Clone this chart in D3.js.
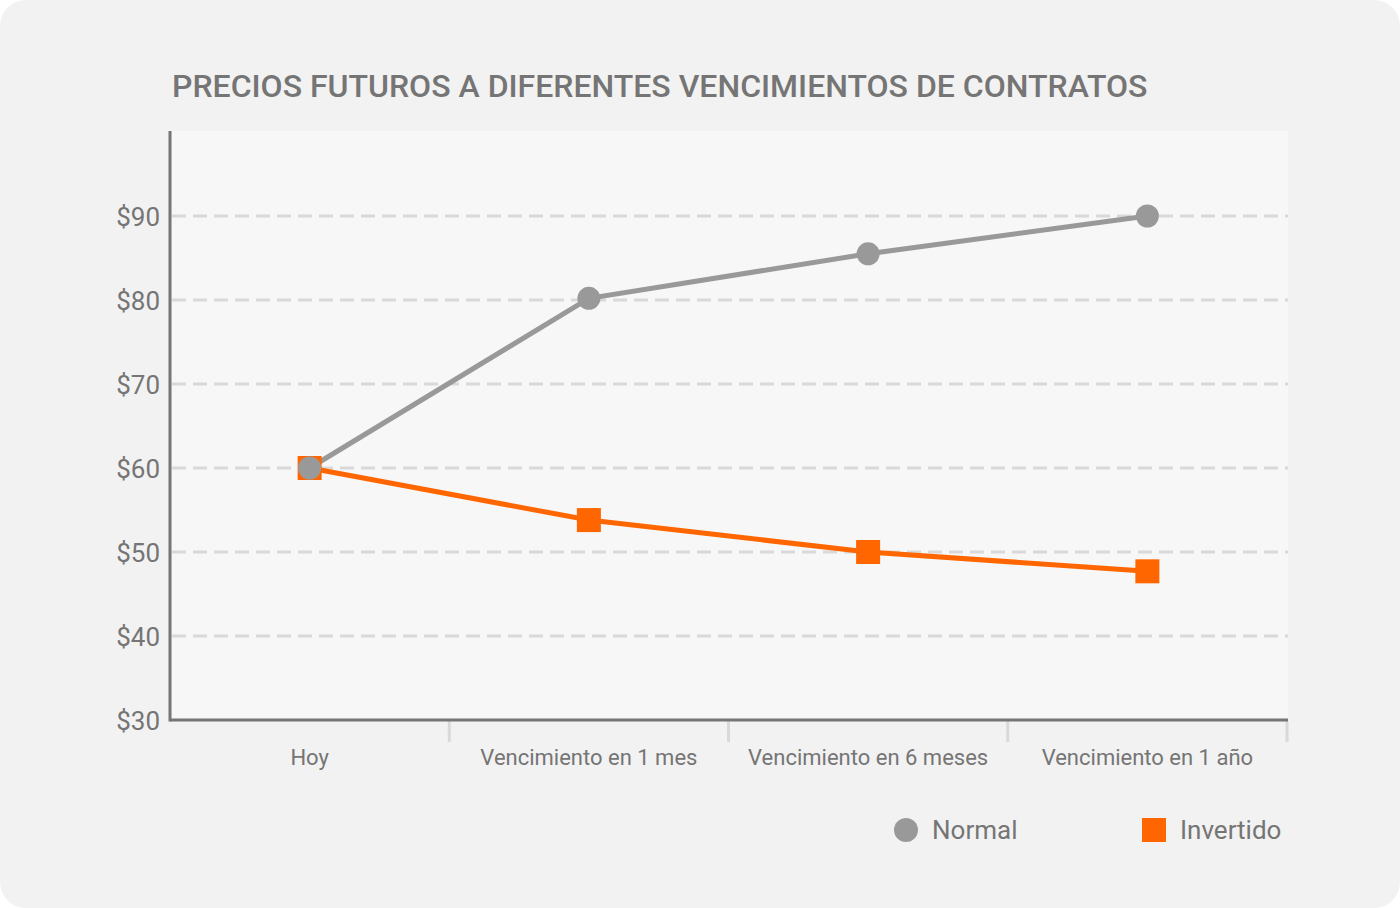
<!DOCTYPE html>
<html><head><meta charset="utf-8">
<script src="https://cdn.jsdelivr.net/npm/d3@7"></script>
<style>html,body{margin:0;padding:0;background:#fff;}svg{display:block;font-family:Roboto,"Noto Sans",sans-serif;}</style>
</head><body>
<script>
const categories = ["Hoy", "Vencimiento en 1 mes", "Vencimiento en 6 meses", "Vencimiento en 1 año"];
const normalValues = [60, 80.2, 85.5, 90];
const invertidoValues = [60, 53.8, 50, 47.7];
const yTicks = [30, 40, 50, 60, 70, 80, 90];
const seriesNames = ["Normal", "Invertido"];
const title = "PRECIOS FUTUROS A DIFERENTES VENCIMIENTOS DE CONTRATOS";

(function () {
const W = 1400, H = 908;
const svg = d3.select("body").append("svg").attr("width", W).attr("height", H);
svg.append("rect").attr("x",0).attr("y",0).attr("width",W).attr("height",H).attr("rx",26).attr("fill","#f2f2f2");

const pL = 170, pR = 1288, pT = 131, pB = 720;
const x = d3.scaleBand().domain(categories).range([pL, 1287]).padding(0);
const y = d3.scaleLinear().domain([30, 100]).range([pB, 132]);

svg.append("rect").attr("x", pL).attr("y", pT).attr("width", pR-pL).attr("height", pB-pT).attr("fill", "#f7f7f7");

svg.append("text").attr("x", 172).attr("y", 97).attr("fill", "#757575")
  .attr("font-size", 32).attr("font-weight", 500).text(title);

// grid
svg.append("g").selectAll("line").data(yTicks.filter(d => d > 30)).join("line")
  .attr("x1", pL + 2).attr("x2", pR).attr("y1", d => y(d)).attr("y2", d => y(d))
  .attr("stroke", "#d9d9d9").attr("stroke-width", 3).attr("stroke-dasharray", "14,7");

// y axis
const yAxis = d3.axisLeft(y).tickValues(yTicks).tickSize(0).tickPadding(10).tickFormat(d => "$" + d);
const gy = svg.append("g").attr("transform", `translate(${pL},0)`).call(yAxis);
gy.select(".domain").remove();
gy.selectAll("text").attr("fill", "#757575").attr("font-size", 26).attr("font-family", "Roboto").attr("dy", "0.35em");
svg.append("line").attr("x1", pL).attr("x2", pL).attr("y1", pT).attr("y2", pB + 1.5)
  .attr("stroke", "#757575").attr("stroke-width", 3);

// x axis
const gx = svg.append("g").attr("transform", `translate(0,${pB})`)
  .call(d3.axisBottom(x).tickSize(0).tickPadding(29));
gx.select(".domain").remove();
gx.selectAll("text").attr("fill", "#757575").attr("font-size", 22).attr("font-family", "Roboto");
svg.append("g").selectAll("line").data(categories).join("line")
  .attr("x1", d => x(d) + x.bandwidth()).attr("x2", d => x(d) + x.bandwidth())
  .attr("y1", pB + 1).attr("y2", pB + 22)
  .attr("stroke", "#d9d9d9").attr("stroke-width", 3);
svg.append("line").attr("x1", pL).attr("x2", 1288).attr("y1", pB).attr("y2", pB)
  .attr("stroke", "#757575").attr("stroke-width", 3);

const cx = d => x(d) + x.bandwidth() / 2;
const line = d3.line().x(d => cx(d.c)).y(d => y(d.v));
const nData = categories.map((c, i) => ({c, v: normalValues[i]}));
const iData = categories.map((c, i) => ({c, v: invertidoValues[i]}));

svg.append("path").datum(nData).attr("d", line).attr("fill", "none").attr("stroke", "#999999").attr("stroke-width", 5);
svg.append("path").datum(iData).attr("d", line).attr("fill", "none").attr("stroke", "#ff6600").attr("stroke-width", 5);

svg.append("g").selectAll("rect").data(iData).join("rect")
  .attr("x", d => cx(d.c) - 12).attr("y", d => y(d.v) - 12).attr("width", 24).attr("height", 24).attr("fill", "#ff6600");
svg.append("g").selectAll("circle").data(nData).join("circle")
  .attr("cx", d => cx(d.c)).attr("cy", d => y(d.v)).attr("r", 11.5).attr("fill", "#999999");

// legend
const lg = svg.append("g");
lg.append("circle").attr("cx", 906).attr("cy", 830).attr("r", 12).attr("fill", "#999999");
lg.append("text").attr("x", 932).attr("y", 839).attr("font-size", 26).attr("fill", "#757575").text(seriesNames[0]);
lg.append("rect").attr("x", 1142).attr("y", 818).attr("width", 24).attr("height", 24).attr("fill", "#ff6600");
lg.append("text").attr("x", 1180).attr("y", 839).attr("font-size", 26).attr("fill", "#757575").text(seriesNames[1]);
})();
</script>
</body></html>
